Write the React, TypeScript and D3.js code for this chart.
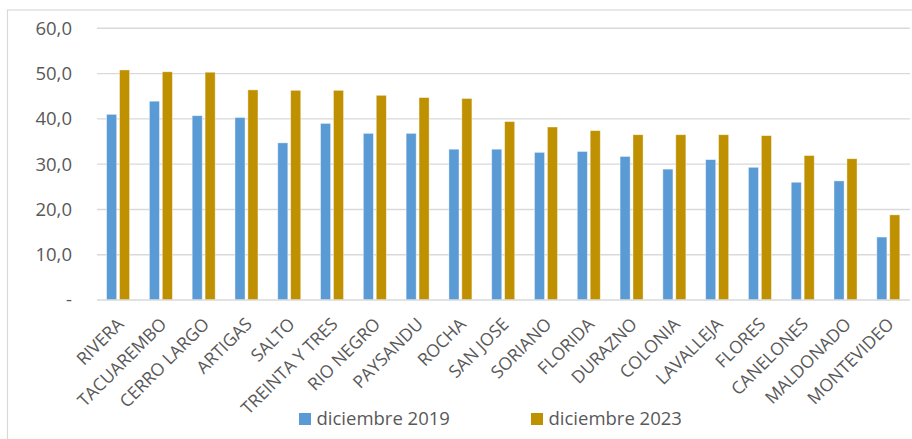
import React from "react";
import * as d3 from "d3";

const categories = ["RIVERA","TACUAREMBO","CERRO LARGO","ARTIGAS","SALTO","TREINTA Y TRES","RIO NEGRO","PAYSANDU","ROCHA","SAN JOSE","SORIANO","FLORIDA","DURAZNO","COLONIA","LAVALLEJA","FLORES","CANELONES","MALDONADO","MONTEVIDEO"];
const series2019 = [41.0,43.9,40.7,40.3,34.7,39.0,36.8,36.8,33.3,33.3,32.6,32.8,31.7,28.9,31.0,29.3,26.0,26.3,13.9];
const series2023 = [50.8,50.4,50.3,46.4,46.3,46.3,45.2,44.7,44.5,39.4,38.2,37.4,36.5,36.5,36.5,36.3,31.9,31.2,18.8];
const seriesNames = ["diciembre 2019","diciembre 2023"];
const seriesColors = ["#5b9bd5","#bf9000"];
const yTicks = [0,10,20,30,40,50,60];

const W = 912, H = 439;
const FONT = "'Open Sans', sans-serif";
const TXT = "#595959";

export default function App() {
  const x0 = d3.scaleBand<string>().domain(categories).range([97, 910]);
  const bw = x0.bandwidth();
  const x1 = d3.scaleBand<string>().domain(seriesNames).range([bw / 2 - 11.8, bw / 2 + 11.2]).paddingInner(0.22);
  const y = d3.scaleLinear().domain([0, 60]).range([300, 28.3]);
  const fmt = (v: number) => (v === 0 ? "-" : d3.format(".1f")(v).replace(".", ","));
  const data = [series2019, series2023];

  return (
    <svg width={W} height={H} style={{ position: "absolute", left: 0, top: 0, background: "#fff" }} fontFamily={FONT}>
      <rect x={7.5} y={10} width={W + 10} height={H + 10} fill="#fff" stroke="#d9d9d9" strokeWidth={1.2} />
      {yTicks.filter(t => t > 0).map(t => (
        <line key={t} x1={97} x2={910} y1={y(t)} y2={y(t)} stroke="#d9d9d9" strokeWidth={1.4} />
      ))}
      {yTicks.map(t => (
        <text key={"l" + t} x={72} y={y(t)} dy="0.35em" textAnchor="end" fontSize={18.5} fill={TXT}>{fmt(t)}</text>
      ))}
      {categories.map((c, i) => (
        <g key={c} transform={`translate(${x0(c)},0)`}>
          {seriesNames.map((s, j) => (
            <rect key={s} x={x1(s)} y={y(data[j][i])} width={x1.bandwidth()} height={y(0) - y(data[j][i])}
              fill={seriesColors[j]} stroke="#ffffff" strokeOpacity={0.5} strokeWidth={0.8} />
          ))}
        </g>
      ))}
      <line x1={97} x2={910} y1={y(0)} y2={y(0)} stroke="#d9d9d9" strokeWidth={1.4} />
      {categories.map(c => {
        const cx = (x0(c) as number) + bw / 2;
        return (
          <text key={"x" + c} transform={`translate(${cx + 2},${321}) rotate(-45)`} textAnchor="end" dy="0.35em" fontSize={17.5} fill={TXT}>{c}</text>
        );
      })}
      {seriesNames.map((s, j) => {
        const lx = [299, 531][j];
        return (
          <g key={"lg" + s}>
            <rect x={lx} y={413} width={12} height={12} fill={seriesColors[j]} />
            <text x={lx + 17.5} y={425} fontSize={18.5} fill={TXT}>{s}</text>
          </g>
        );
      })}
    </svg>
  );
}
